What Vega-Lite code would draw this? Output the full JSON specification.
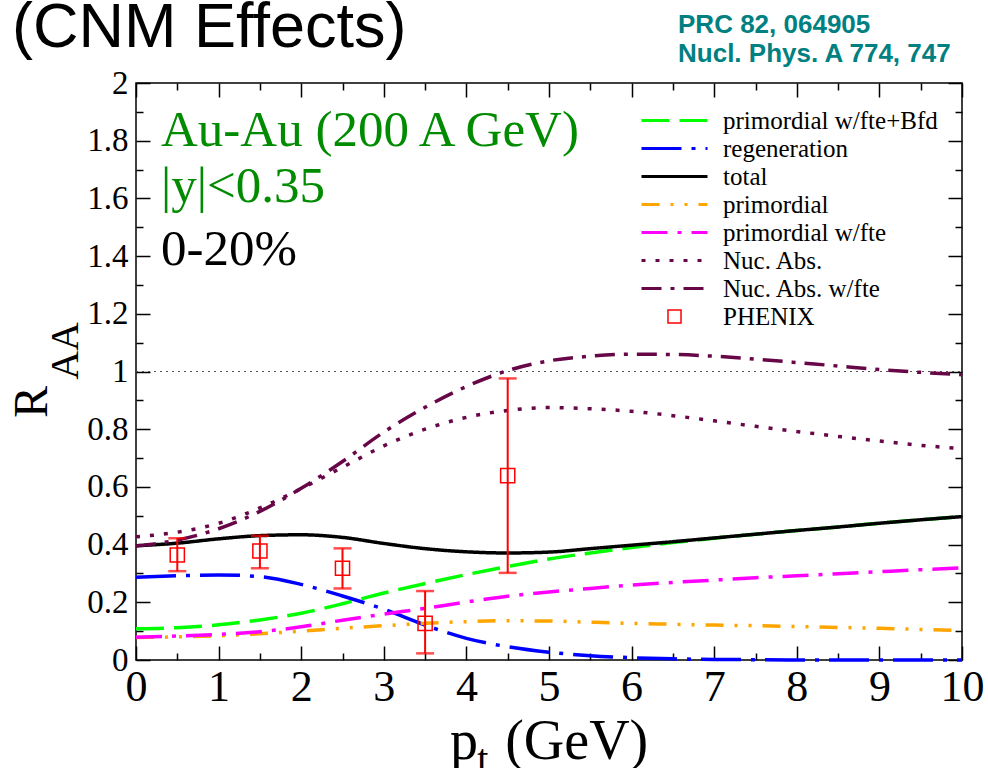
{
  "$schema": "https://vega.github.io/schema/vega-lite/v6.json",
  "width": 826,
  "height": 577,
  "autosize": "none",
  "padding": {"left": 136, "top": 83, "right": 26, "bottom": 108},
  "background": "white",
  "config": {
    "view": {"stroke": "black", "strokeWidth": 1.5},
    "axis": {"grid": false, "domain": false},
    "legend": {
      "orient": "none",
      "legendX": 526,
      "legendY": 25,
      "labelFont": "Liberation Serif",
      "labelFontSize": 25,
      "labelColor": "black",
      "symbolSize": 100,
      "symbolStrokeWidth": 3,
      "rowPadding": 2,
      "labelOffset": 36,
      "labelLimit": 400,
      "padding": 0
    }
  },
  "datasets": {
    "curves": [
      {"x": 0, "r": 0.108, "s": "primordial w/fte+Bfd"},
      {"x": 0.5, "r": 0.112, "s": "primordial w/fte+Bfd"},
      {"x": 1, "r": 0.122, "s": "primordial w/fte+Bfd"},
      {"x": 1.5, "r": 0.139, "s": "primordial w/fte+Bfd"},
      {"x": 2, "r": 0.162, "s": "primordial w/fte+Bfd"},
      {"x": 2.5, "r": 0.195, "s": "primordial w/fte+Bfd"},
      {"x": 3, "r": 0.232, "s": "primordial w/fte+Bfd"},
      {"x": 3.5, "r": 0.265, "s": "primordial w/fte+Bfd"},
      {"x": 4, "r": 0.296, "s": "primordial w/fte+Bfd"},
      {"x": 4.5, "r": 0.324, "s": "primordial w/fte+Bfd"},
      {"x": 5, "r": 0.35, "s": "primordial w/fte+Bfd"},
      {"x": 5.5, "r": 0.371, "s": "primordial w/fte+Bfd"},
      {"x": 6, "r": 0.39, "s": "primordial w/fte+Bfd"},
      {"x": 6.5, "r": 0.407, "s": "primordial w/fte+Bfd"},
      {"x": 7, "r": 0.422, "s": "primordial w/fte+Bfd"},
      {"x": 7.5, "r": 0.436, "s": "primordial w/fte+Bfd"},
      {"x": 8, "r": 0.449, "s": "primordial w/fte+Bfd"},
      {"x": 8.5, "r": 0.461, "s": "primordial w/fte+Bfd"},
      {"x": 9, "r": 0.474, "s": "primordial w/fte+Bfd"},
      {"x": 9.5, "r": 0.486, "s": "primordial w/fte+Bfd"},
      {"x": 10, "r": 0.497, "s": "primordial w/fte+Bfd"},
      {"x": 0, "r": 0.287, "s": "regeneration"},
      {"x": 0.5, "r": 0.292, "s": "regeneration"},
      {"x": 1, "r": 0.295, "s": "regeneration"},
      {"x": 1.5, "r": 0.289, "s": "regeneration"},
      {"x": 2, "r": 0.262, "s": "regeneration"},
      {"x": 2.5, "r": 0.222, "s": "regeneration"},
      {"x": 3, "r": 0.176, "s": "regeneration"},
      {"x": 3.5, "r": 0.121, "s": "regeneration"},
      {"x": 4, "r": 0.075, "s": "regeneration"},
      {"x": 4.5, "r": 0.046, "s": "regeneration"},
      {"x": 5, "r": 0.027, "s": "regeneration"},
      {"x": 5.5, "r": 0.015, "s": "regeneration"},
      {"x": 6, "r": 0.008, "s": "regeneration"},
      {"x": 6.5, "r": 0.004, "s": "regeneration"},
      {"x": 7, "r": 0.002, "s": "regeneration"},
      {"x": 7.5, "r": 0.001, "s": "regeneration"},
      {"x": 8, "r": 0, "s": "regeneration"},
      {"x": 8.5, "r": 0, "s": "regeneration"},
      {"x": 9, "r": 0, "s": "regeneration"},
      {"x": 9.5, "r": 0, "s": "regeneration"},
      {"x": 10, "r": 0, "s": "regeneration"},
      {"x": 0, "r": 0.396, "s": "total"},
      {"x": 0.5, "r": 0.405, "s": "total"},
      {"x": 1, "r": 0.42, "s": "total"},
      {"x": 1.5, "r": 0.431, "s": "total"},
      {"x": 2, "r": 0.434, "s": "total"},
      {"x": 2.5, "r": 0.425, "s": "total"},
      {"x": 3, "r": 0.404, "s": "total"},
      {"x": 3.5, "r": 0.386, "s": "total"},
      {"x": 4, "r": 0.375, "s": "total"},
      {"x": 4.5, "r": 0.371, "s": "total"},
      {"x": 5, "r": 0.374, "s": "total"},
      {"x": 5.5, "r": 0.386, "s": "total"},
      {"x": 6, "r": 0.398, "s": "total"},
      {"x": 6.5, "r": 0.41, "s": "total"},
      {"x": 7, "r": 0.423, "s": "total"},
      {"x": 7.5, "r": 0.436, "s": "total"},
      {"x": 8, "r": 0.449, "s": "total"},
      {"x": 8.5, "r": 0.461, "s": "total"},
      {"x": 9, "r": 0.474, "s": "total"},
      {"x": 9.5, "r": 0.486, "s": "total"},
      {"x": 10, "r": 0.497, "s": "total"},
      {"x": 0, "r": 0.078, "s": "primordial"},
      {"x": 0.5, "r": 0.08, "s": "primordial"},
      {"x": 1, "r": 0.084, "s": "primordial"},
      {"x": 1.5, "r": 0.091, "s": "primordial"},
      {"x": 2, "r": 0.1, "s": "primordial"},
      {"x": 2.5, "r": 0.11, "s": "primordial"},
      {"x": 3, "r": 0.119, "s": "primordial"},
      {"x": 3.5, "r": 0.127, "s": "primordial"},
      {"x": 4, "r": 0.133, "s": "primordial"},
      {"x": 4.5, "r": 0.136, "s": "primordial"},
      {"x": 5, "r": 0.135, "s": "primordial"},
      {"x": 5.5, "r": 0.131, "s": "primordial"},
      {"x": 6, "r": 0.127, "s": "primordial"},
      {"x": 6.5, "r": 0.124, "s": "primordial"},
      {"x": 7, "r": 0.121, "s": "primordial"},
      {"x": 7.5, "r": 0.119, "s": "primordial"},
      {"x": 8, "r": 0.116, "s": "primordial"},
      {"x": 8.5, "r": 0.113, "s": "primordial"},
      {"x": 9, "r": 0.11, "s": "primordial"},
      {"x": 9.5, "r": 0.106, "s": "primordial"},
      {"x": 10, "r": 0.102, "s": "primordial"},
      {"x": 0, "r": 0.079, "s": "primordial w/fte"},
      {"x": 0.5, "r": 0.083, "s": "primordial w/fte"},
      {"x": 1, "r": 0.089, "s": "primordial w/fte"},
      {"x": 1.5, "r": 0.098, "s": "primordial w/fte"},
      {"x": 2, "r": 0.115, "s": "primordial w/fte"},
      {"x": 2.5, "r": 0.138, "s": "primordial w/fte"},
      {"x": 3, "r": 0.159, "s": "primordial w/fte"},
      {"x": 3.5, "r": 0.179, "s": "primordial w/fte"},
      {"x": 4, "r": 0.201, "s": "primordial w/fte"},
      {"x": 4.5, "r": 0.221, "s": "primordial w/fte"},
      {"x": 5, "r": 0.236, "s": "primordial w/fte"},
      {"x": 5.5, "r": 0.248, "s": "primordial w/fte"},
      {"x": 6, "r": 0.26, "s": "primordial w/fte"},
      {"x": 6.5, "r": 0.269, "s": "primordial w/fte"},
      {"x": 7, "r": 0.277, "s": "primordial w/fte"},
      {"x": 7.5, "r": 0.285, "s": "primordial w/fte"},
      {"x": 8, "r": 0.292, "s": "primordial w/fte"},
      {"x": 8.5, "r": 0.299, "s": "primordial w/fte"},
      {"x": 9, "r": 0.306, "s": "primordial w/fte"},
      {"x": 9.5, "r": 0.313, "s": "primordial w/fte"},
      {"x": 10, "r": 0.319, "s": "primordial w/fte"},
      {"x": 0, "r": 0.427, "s": "Nuc. Abs."},
      {"x": 0.5, "r": 0.443, "s": "Nuc. Abs."},
      {"x": 1, "r": 0.474, "s": "Nuc. Abs."},
      {"x": 1.5, "r": 0.527, "s": "Nuc. Abs."},
      {"x": 2, "r": 0.594, "s": "Nuc. Abs."},
      {"x": 2.5, "r": 0.668, "s": "Nuc. Abs."},
      {"x": 3, "r": 0.742, "s": "Nuc. Abs."},
      {"x": 3.5, "r": 0.8, "s": "Nuc. Abs."},
      {"x": 4, "r": 0.841, "s": "Nuc. Abs."},
      {"x": 4.5, "r": 0.865, "s": "Nuc. Abs."},
      {"x": 5, "r": 0.875, "s": "Nuc. Abs."},
      {"x": 5.5, "r": 0.871, "s": "Nuc. Abs."},
      {"x": 6, "r": 0.862, "s": "Nuc. Abs."},
      {"x": 6.5, "r": 0.847, "s": "Nuc. Abs."},
      {"x": 7, "r": 0.829, "s": "Nuc. Abs."},
      {"x": 7.5, "r": 0.81, "s": "Nuc. Abs."},
      {"x": 8, "r": 0.792, "s": "Nuc. Abs."},
      {"x": 8.5, "r": 0.775, "s": "Nuc. Abs."},
      {"x": 9, "r": 0.759, "s": "Nuc. Abs."},
      {"x": 9.5, "r": 0.744, "s": "Nuc. Abs."},
      {"x": 10, "r": 0.733, "s": "Nuc. Abs."},
      {"x": 0, "r": 0.395, "s": "Nuc. Abs. w/fte"},
      {"x": 0.5, "r": 0.416, "s": "Nuc. Abs. w/fte"},
      {"x": 1, "r": 0.455, "s": "Nuc. Abs. w/fte"},
      {"x": 1.5, "r": 0.515, "s": "Nuc. Abs. w/fte"},
      {"x": 2, "r": 0.595, "s": "Nuc. Abs. w/fte"},
      {"x": 2.5, "r": 0.688, "s": "Nuc. Abs. w/fte"},
      {"x": 3, "r": 0.79, "s": "Nuc. Abs. w/fte"},
      {"x": 3.5, "r": 0.876, "s": "Nuc. Abs. w/fte"},
      {"x": 4, "r": 0.948, "s": "Nuc. Abs. w/fte"},
      {"x": 4.5, "r": 1.003, "s": "Nuc. Abs. w/fte"},
      {"x": 5, "r": 1.037, "s": "Nuc. Abs. w/fte"},
      {"x": 5.5, "r": 1.053, "s": "Nuc. Abs. w/fte"},
      {"x": 6, "r": 1.06, "s": "Nuc. Abs. w/fte"},
      {"x": 6.5, "r": 1.059, "s": "Nuc. Abs. w/fte"},
      {"x": 7, "r": 1.053, "s": "Nuc. Abs. w/fte"},
      {"x": 7.5, "r": 1.043, "s": "Nuc. Abs. w/fte"},
      {"x": 8, "r": 1.031, "s": "Nuc. Abs. w/fte"},
      {"x": 8.5, "r": 1.019, "s": "Nuc. Abs. w/fte"},
      {"x": 9, "r": 1.007, "s": "Nuc. Abs. w/fte"},
      {"x": 9.5, "r": 0.997, "s": "Nuc. Abs. w/fte"},
      {"x": 10, "r": 0.989, "s": "Nuc. Abs. w/fte"}
    ],
    "phenix": [
      {"pt": 0.5, "r": 0.364, "lo": 0.308, "hi": 0.422, "s": "PHENIX"},
      {"pt": 1.5, "r": 0.378, "lo": 0.318, "hi": 0.431, "s": "PHENIX"},
      {"pt": 2.5, "r": 0.318, "lo": 0.248, "hi": 0.387, "s": "PHENIX"},
      {"pt": 3.5, "r": 0.127, "lo": 0.023, "hi": 0.239, "s": "PHENIX"},
      {"pt": 4.5, "r": 0.639, "lo": 0.302, "hi": 0.976, "s": "PHENIX"}
    ]
  },
  "resolve": {"scale": {"x": "independent", "y": "independent"}, "axis": {"x": "independent", "y": "independent"}},
  "layer": [
    {
      "data": {"values": [{"a": 1}]},
      "mark": {"type": "rule", "opacity": 0},
      "encoding": {
        "x": {"datum": 0, "type": "quantitative", "scale": {"domain": [0, 10], "nice": false, "zero": false},
          "axis": {"values": [0,1,2,3,4,5,6,7,8,9,10], "labels": false, "ticks": true, "tickSize": -14, "tickColor": "black", "tickWidth": 1.5, "title": null, "orient": "bottom"}},
        "y": {"datum": 0, "type": "quantitative", "scale": {"domain": [0, 2], "nice": false, "zero": false},
          "axis": {"values": [0,0.2,0.4,0.6,0.8,1,1.2,1.4,1.6,1.8,2], "labels": false, "ticks": true, "tickSize": -14, "tickColor": "black", "tickWidth": 1.5, "title": null, "orient": "left"}}
      }
    },
    {
      "data": {"values": [{"a": 1}]},
      "mark": {"type": "rule", "opacity": 0},
      "encoding": {
        "x": {"datum": 0, "type": "quantitative", "scale": {"domain": [0, 10], "nice": false, "zero": false},
          "axis": {"values": [0.5,1.5,2.5,3.5,4.5,5.5,6.5,7.5,8.5,9.5], "labels": false, "ticks": true, "tickSize": -7, "tickColor": "black", "tickWidth": 1.5, "title": null, "orient": "bottom"}},
        "y": {"datum": 0, "type": "quantitative", "scale": {"domain": [0, 2], "nice": false, "zero": false},
          "axis": {"values": [0.1,0.3,0.5,0.7,0.9,1.1,1.3,1.5,1.7,1.9], "labels": false, "ticks": true, "tickSize": -7, "tickColor": "black", "tickWidth": 1.5, "title": null, "orient": "left"}}
      }
    },
    {
      "data": {"values": [{"a": 1}]},
      "mark": {"type": "rule", "opacity": 0},
      "encoding": {
        "x": {"datum": 0, "type": "quantitative", "scale": {"domain": [0, 10], "nice": false, "zero": false},
          "axis": {"values": [0,1,2,3,4,5,6,7,8,9,10], "labels": false, "ticks": true, "tickSize": -14, "tickColor": "black", "tickWidth": 1.5, "title": null, "orient": "top"}},
        "y": {"datum": 0, "type": "quantitative", "scale": {"domain": [0, 2], "nice": false, "zero": false},
          "axis": {"values": [0,0.2,0.4,0.6,0.8,1,1.2,1.4,1.6,1.8,2], "labels": false, "ticks": true, "tickSize": -14, "tickColor": "black", "tickWidth": 1.5, "title": null, "orient": "right"}}
      }
    },
    {
      "data": {"values": [{"a": 1}]},
      "mark": {"type": "rule", "opacity": 0},
      "encoding": {
        "x": {"datum": 0, "type": "quantitative", "scale": {"domain": [0, 10], "nice": false, "zero": false},
          "axis": {"values": [0.5,1.5,2.5,3.5,4.5,5.5,6.5,7.5,8.5,9.5], "labels": false, "ticks": true, "tickSize": -7, "tickColor": "black", "tickWidth": 1.5, "title": null, "orient": "top"}},
        "y": {"datum": 0, "type": "quantitative", "scale": {"domain": [0, 2], "nice": false, "zero": false},
          "axis": {"values": [0.1,0.3,0.5,0.7,0.9,1.1,1.3,1.5,1.7,1.9], "labels": false, "ticks": true, "tickSize": -7, "tickColor": "black", "tickWidth": 1.5, "title": null, "orient": "right"}}
      }
    },
    {
      "layer": [
        {
          "data": {"values": [{"a": 1}]},
          "mark": {"type": "rule", "strokeDash": [2, 4], "color": "#555555", "strokeWidth": 1},
          "encoding": {
            "x": {"datum": 0, "type": "quantitative", "scale": {"domain": [0, 10], "nice": false, "zero": false},
              "axis": {"values": [0,1,2,3,4,5,6,7,8,9,10], "format": "d", "ticks": false, "labelFont": "Liberation Serif", "labelFontSize": 44, "labelColor": "black", "labelPadding": 5, "title": null, "labelFlush": false, "labelOverlap": false, "orient": "bottom"}},
            "x2": {"datum": 10},
            "y": {"datum": 1, "type": "quantitative", "scale": {"domain": [0, 2], "nice": false, "zero": false},
              "axis": {"values": [0,0.2,0.4,0.6,0.8,1,1.2,1.4,1.6,1.8,2], "format": "~g", "ticks": false, "labelFont": "Liberation Serif", "labelFontSize": 33, "labelColor": "black", "labelPadding": 8, "title": null, "labelFlush": false, "labelOverlap": false, "orient": "left"}}
          }
        },
        {
          "data": {"name": "curves"},
          "mark": {"type": "line", "strokeWidth": 3.5, "interpolate": "monotone", "strokeCap": "butt"},
          "encoding": {
            "x": {"field": "x", "type": "quantitative"},
            "y": {"field": "r", "type": "quantitative"},
            "color": {"field": "s", "type": "nominal",
              "scale": {"domain": ["primordial w/fte+Bfd", "regeneration", "total", "primordial", "primordial w/fte", "Nuc. Abs.", "Nuc. Abs. w/fte", "PHENIX"],
                        "range": ["#00ff00", "#0000ff", "#000000", "#ffa500", "#ff00ff", "#670748", "#670748", "#ff0000"]},
              "legend": {"title": null,
                "encode": {"symbols": {"update": {
                  "shape": {"signal": "datum.value === 'PHENIX' ? 'square' : 'stroke'"},
                  "size": {"signal": "datum.value === 'PHENIX' ? 170 : 4356"},
                  "strokeWidth": {"signal": "datum.value === 'PHENIX' ? 1.5 : 3"},
                  "fill": {"value": "transparent"},
                  "fillOpacity": {"value": 0}}}}}},
            "strokeDash": {"field": "s", "type": "nominal",
              "scale": {"domain": ["primordial w/fte+Bfd", "regeneration", "total", "primordial", "primordial w/fte", "Nuc. Abs.", "Nuc. Abs. w/fte", "PHENIX"],
                        "range": [[28, 10], [40, 10, 4, 10], [1, 0], [18, 11, 3, 11, 3, 11], [26, 10, 4, 10], [4, 10], [20, 9, 4, 9], [1, 0]]},
              "legend": {"title": null}}
          }
        },
        {
          "data": {"name": "phenix"},
          "mark": {"type": "rule", "strokeWidth": 2},
          "encoding": {
            "x": {"field": "pt", "type": "quantitative"},
            "y": {"field": "lo", "type": "quantitative"},
            "y2": {"field": "hi"},
            "color": {"field": "s", "type": "nominal"}
          }
        },
        {
          "data": {"name": "phenix"},
          "mark": {"type": "tick", "orient": "horizontal", "size": 18, "thickness": 2.5},
          "encoding": {
            "x": {"field": "pt", "type": "quantitative"},
            "y": {"field": "lo", "type": "quantitative"},
            "color": {"field": "s", "type": "nominal"}
          }
        },
        {
          "data": {"name": "phenix"},
          "mark": {"type": "tick", "orient": "horizontal", "size": 18, "thickness": 2.5},
          "encoding": {
            "x": {"field": "pt", "type": "quantitative"},
            "y": {"field": "hi", "type": "quantitative"},
            "color": {"field": "s", "type": "nominal"}
          }
        },
        {
          "data": {"name": "phenix"},
          "mark": {"type": "point", "shape": "square", "filled": false, "size": 200, "strokeWidth": 1.5, "opacity": 1},
          "encoding": {
            "x": {"field": "pt", "type": "quantitative"},
            "y": {"field": "r", "type": "quantitative"},
            "color": {"field": "s", "type": "nominal"}
          }
        },
        {
          "data": {"values": [{"t": "Au-Au (200 A GeV)"}]},
          "mark": {"type": "text", "font": "Liberation Serif", "fontSize": 51, "color": "#008b00", "align": "left", "baseline": "alphabetic"},
          "encoding": {"x": {"datum": 0.303, "type": "quantitative"}, "y": {"datum": 1.782, "type": "quantitative"}, "text": {"field": "t"}}
        },
        {
          "data": {"values": [{"t": "|y|<0.35"}]},
          "mark": {"type": "text", "font": "Liberation Serif", "fontSize": 51, "color": "#008b00", "align": "left", "baseline": "alphabetic"},
          "encoding": {"x": {"datum": 0.303, "type": "quantitative"}, "y": {"datum": 1.588, "type": "quantitative"}, "text": {"field": "t"}}
        },
        {
          "data": {"values": [{"t": "0-20%"}]},
          "mark": {"type": "text", "font": "Liberation Serif", "fontSize": 51, "color": "black", "align": "left", "baseline": "alphabetic"},
          "encoding": {"x": {"datum": 0.303, "type": "quantitative"}, "y": {"datum": 1.369, "type": "quantitative"}, "text": {"field": "t"}}
        },
        {
          "data": {"values": [{"t": "(CNM Effects)"}]},
          "mark": {"type": "text", "font": "Liberation Sans", "fontSize": 63, "color": "black", "align": "left", "baseline": "alphabetic"},
          "encoding": {"x": {"datum": -1.5, "type": "quantitative"}, "y": {"datum": 2.125, "type": "quantitative"}, "text": {"field": "t"}}
        },
        {
          "data": {"values": [{"t": "PRC 82, 064905"}]},
          "mark": {"type": "text", "font": "Liberation Sans", "fontWeight": "bold", "fontSize": 26, "color": "#008080", "align": "left", "baseline": "alphabetic"},
          "encoding": {"x": {"datum": 6.562, "type": "quantitative"}, "y": {"datum": 2.173, "type": "quantitative"}, "text": {"field": "t"}}
        },
        {
          "data": {"values": [{"t": "Nucl. Phys. A 774, 747"}]},
          "mark": {"type": "text", "font": "Liberation Sans", "fontWeight": "bold", "fontSize": 26, "color": "#008080", "align": "left", "baseline": "alphabetic"},
          "encoding": {"x": {"datum": 6.562, "type": "quantitative"}, "y": {"datum": 2.073, "type": "quantitative"}, "text": {"field": "t"}}
        },
        {
          "data": {"values": [{"t": "p"}]},
          "mark": {"type": "text", "font": "Liberation Serif", "fontSize": 56, "color": "black", "align": "left", "baseline": "alphabetic"},
          "encoding": {"x": {"datum": 3.8, "type": "quantitative"}, "y": {"datum": -0.343, "type": "quantitative"}, "text": {"field": "t"}}
        },
        {
          "data": {"values": [{"t": "t"}]},
          "mark": {"type": "text", "font": "Liberation Serif", "fontSize": 40, "color": "black", "align": "left", "baseline": "alphabetic"},
          "encoding": {"x": {"datum": 4.13, "type": "quantitative"}, "y": {"datum": -0.388, "type": "quantitative"}, "text": {"field": "t"}}
        },
        {
          "data": {"values": [{"t": "(GeV)"}]},
          "mark": {"type": "text", "font": "Liberation Serif", "fontSize": 56, "color": "black", "align": "left", "baseline": "alphabetic"},
          "encoding": {"x": {"datum": 4.47, "type": "quantitative"}, "y": {"datum": -0.343, "type": "quantitative"}, "text": {"field": "t"}}
        },
        {
          "data": {"values": [{"t": "R"}]},
          "mark": {"type": "text", "font": "Liberation Serif", "fontSize": 48, "color": "black", "align": "left", "baseline": "alphabetic", "angle": 270},
          "encoding": {"x": {"datum": -1.077, "type": "quantitative"}, "y": {"datum": 0.839, "type": "quantitative"}, "text": {"field": "t"}}
        },
        {
          "data": {"values": [{"t": "AA"}]},
          "mark": {"type": "text", "font": "Liberation Serif", "fontSize": 40, "color": "black", "align": "left", "baseline": "alphabetic", "angle": 270},
          "encoding": {"x": {"datum": -0.702, "type": "quantitative"}, "y": {"datum": 0.971, "type": "quantitative"}, "text": {"field": "t"}}
        }
      ]
    }
  ]
}
